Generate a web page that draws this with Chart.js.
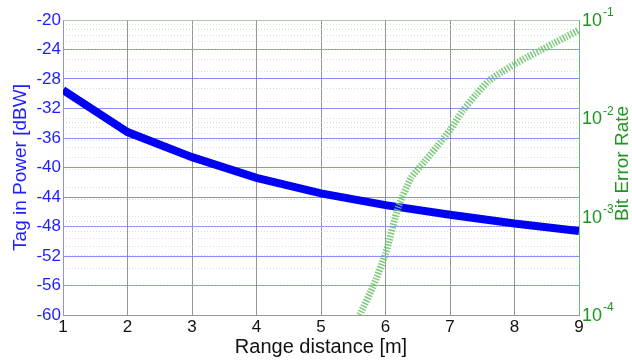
<!DOCTYPE html>
<html>
<head>
<meta charset="utf-8">
<title>Tag power and BER vs range</title>
<script src="https://cdn.jsdelivr.net/npm/chart.js@4.4.1/dist/chart.umd.min.js"></script>
<style>
    html, body { margin: 0; padding: 0; background: #fff; }
    #chart-wrap { width: 632px; height: 362px; }
</style>
</head>
<body>
<div id="chart-wrap"><canvas id="range-chart" width="632" height="362"></canvas></div>
<script>
// Datos
const distance = [1, 2, 3, 4, 5, 6, 7, 8, 9];
const tagPower = [-29.5, -35.2, -38.6, -41.4, -43.5, -45.1, -46.4, -47.6, -48.6];

const berDistance = [5.6, 5.8, 6.0, 6.2, 6.4, 6.6, 6.8, 7.0, 7.2, 7.4, 7.6, 7.8, 8.0, 8.2, 8.4, 8.6, 8.8, 9.0];
const berValues = [1.0e-4, 1.9e-4, 4.2e-4, 1.26e-3, 2.5e-3, 3.6e-3, 5.2e-3, 7.6e-3, 1.2e-2,
                   1.74e-2, 2.4e-2, 2.95e-2, 3.55e-2, 4.2e-2, 4.9e-2, 5.75e-2, 6.75e-2, 7.9e-2];

const powerTicks = { min: -60, max: -20, step: 4 };
const berTicks = { min: 1e-4, max: 1e-1 };

const FONT = '"Liberation Sans", Arial, sans-serif';
const BLUE = 'rgb(30, 30, 255)';
const GREEN = 'rgb(30, 150, 30)';

function isDecade(value) {
    const e = Math.log10(value);
    return Math.abs(e - Math.round(e)) < 1e-6;
}

// Etiquetas 10^n y titulo del eje derecho (de abajo hacia arriba)
const rightAxisText = {
    id: 'rightAxisText',
    afterDraw(chart) {
        const { ctx, chartArea } = chart;
        const scale = chart.scales.y1;
        ctx.save();
        ctx.fillStyle = GREEN;
        ctx.textAlign = 'left';
        ctx.textBaseline = 'middle';
        scale.ticks.forEach(t => {
            if (!isDecade(t.value)) return;
            const y = scale.getPixelForValue(t.value);
            const x = chartArea.right + 3;
            ctx.font = '18px ' + FONT;
            ctx.fillText('10', x, y + 1);
            const w = ctx.measureText('10').width;
            ctx.font = '12px ' + FONT;
            ctx.fillText(String(Math.round(Math.log10(t.value))), x + w + 1, y - 7);
        });

        ctx.translate(623, (chartArea.top + chartArea.bottom) / 2 - 4);
        ctx.rotate(-Math.PI / 2);
        ctx.font = '19px ' + FONT;
        ctx.textAlign = 'center';
        ctx.fillText('Bit Error Rate', 0, 0);
        ctx.restore();
    }
};

Chart.defaults.font.family = FONT;

new Chart(document.getElementById('range-chart'), {
    type: 'line',
    data: {
        datasets: [{
            label: 'Tag in Power [dBW]',
            data: distance.map((d, i) => ({ x: d, y: tagPower[i] })),
            yAxisID: 'y',
            borderColor: 'rgb(0, 0, 245)',
            borderWidth: 8,
            pointRadius: 0,
            tension: 0,
            order: 1
        }, {
            label: 'Bit Error Rate',
            data: berDistance.map((d, i) => ({ x: d, y: berValues[i] })),
            yAxisID: 'y1',
            borderColor: 'rgba(110, 195, 110, 0.9)',
            borderWidth: 7,
            borderDash: [1.5, 1.5],
            pointRadius: 0,
            tension: 0.2,
            order: 0
        }]
    },
    options: {
        responsive: false,
        animation: false,
        layout: { padding: { top: 20, left: 0, right: 0, bottom: 0 } },
        plugins: {
            legend: { display: false },
            tooltip: { enabled: false }
        },
        scales: {
            x: {
                type: 'linear',
                min: 1,
                max: 9,
                ticks: { stepSize: 1, color: '#111', font: { size: 17 }, padding: 2 },
                grid: { color: 'rgb(150, 150, 150)', drawTicks: false },
                border: { color: 'rgb(150, 150, 150)' },
                title: {
                    display: true,
                    text: 'Range distance [m]',
                    color: '#111',
                    font: { size: 20 },
                    padding: { top: 0, bottom: 3 }
                },
                afterFit: scale => { scale.height = 47; }
            },
            y: {
                position: 'left',
                min: powerTicks.min,
                max: powerTicks.max,
                ticks: { stepSize: powerTicks.step, color: BLUE, font: { size: 17 }, padding: 2 },
                grid: {
                    color: ctx => (ctx.tick && (ctx.tick.value === -20 || ctx.tick.value === -60))
                        ? 'rgba(160, 180, 160, 0.8)' : 'rgba(110, 110, 255, 0.8)',
                    drawTicks: false
                },
                border: { color: 'rgba(140, 140, 255, 0.9)' },
                title: {
                    display: true,
                    text: 'Tag in Power [dBW]',
                    color: BLUE,
                    font: { size: 19 },
                    padding: { top: 9, bottom: 0 }
                },
                afterFit: scale => { scale.width = 63; }
            },
            y1: {
                type: 'logarithmic',
                position: 'right',
                min: berTicks.min,
                max: berTicks.max,
                ticks: {
                    autoSkip: false,
                    // etiquetas vacias: se dibujan en el plugin con exponente
                    callback: () => ''
                },
                grid: { color: 'rgba(170, 225, 170, 0.6)', drawTicks: false },
                border: { color: 'rgba(110, 190, 110, 0.9)', dash: [1, 2] },
                afterFit: scale => { scale.width = 53; }
            }
        }
    },
    plugins: [rightAxisText]
});
</script>
</body>
</html>
